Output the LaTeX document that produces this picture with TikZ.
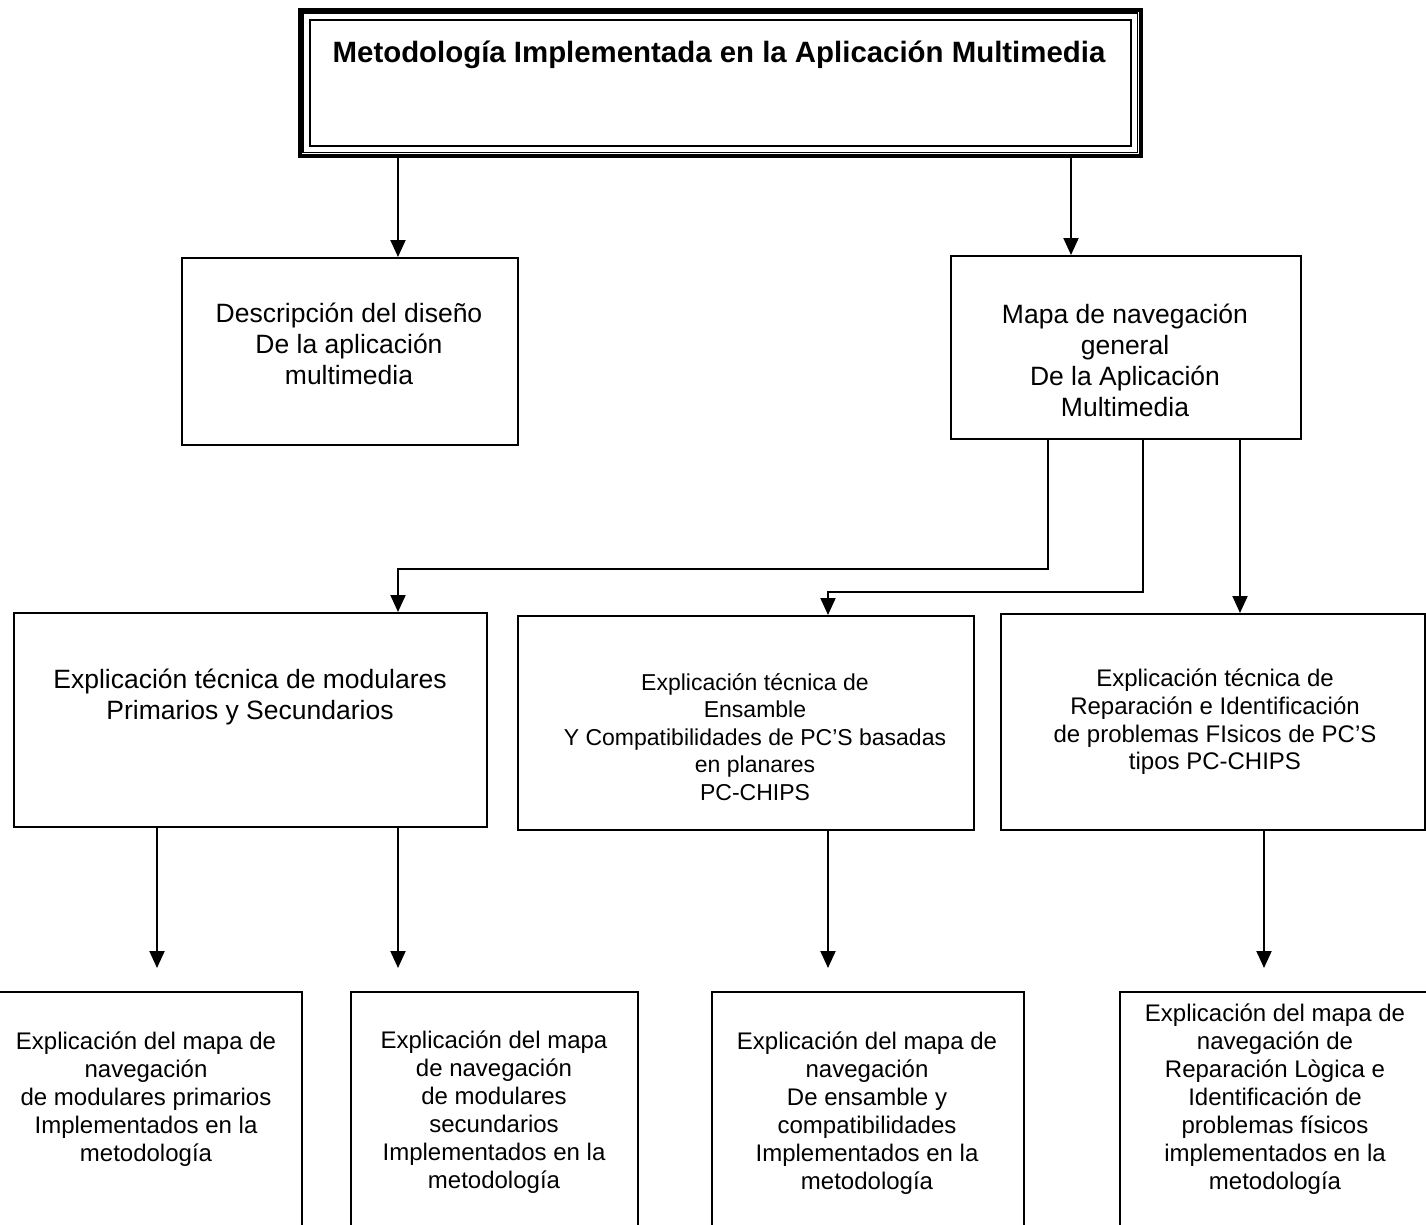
\documentclass[tikz,border=0pt]{standalone}
\usepackage{fontspec}
\setmainfont{Liberation Sans}
\usetikzlibrary{arrows.meta}
\begin{document}
\begin{tikzpicture}[x=1pt,y=-1pt,
 box/.style={draw, line width=2pt, rectangle, inner sep=0pt, anchor=north west},
 arr/.style={line width=2pt, -{Triangle[length=17pt,width=15pt]}},
 bigtxt/.style={align=center, inner sep=0pt, font=\fontsize{26.5}{31}\selectfont},
 midtxt/.style={align=center, inner sep=0pt, font=\fontsize{23}{27.5}\selectfont},
 bottxt/.style={align=center, inner sep=0pt, font=\fontsize{24}{28}\selectfont},
]
\useasboundingbox (0,0) rectangle (1426,1224);
\clip (0,0) rectangle (1426,1224);
\fill[white] (0,0) rectangle (1426,1224);

% title box
\node[box, line width=3.5pt, minimum width=841pt, minimum height=146pt] (title) at (298,8) {};
\draw[line width=1.5pt] ([xshift=5pt,yshift=-5pt]title.north west) rectangle ([xshift=-5pt,yshift=5pt]title.south east);
\draw[line width=2pt] ([xshift=12pt,yshift=-12pt]title.north west) rectangle ([xshift=-12pt,yshift=12pt]title.south east);
\node[inner sep=0pt, anchor=base, font=\bfseries\fontsize{29.4}{34}\selectfont] (ttl) at (719,62) {Metodología Implementada en la Aplicación Multimedia};

% boxes
\node[box, minimum width=336pt, minimum height=187pt] (A) at (181,257) {};
\node[box, minimum width=350pt, minimum height=183pt] (B) at (950,255) {};
\node[box, minimum width=473pt, minimum height=214pt] (C) at (13,612) {};
\node[box, minimum width=456pt, minimum height=214pt] (D) at (517,615) {};
\node[box, minimum width=424pt, minimum height=216pt] (E) at (1000,613) {};
\node[box, minimum width=311pt, minimum height=300pt] (F) at (-10,991) {};
\node[box, minimum width=287pt, minimum height=300pt] (G) at (350,991) {};
\node[box, minimum width=312pt, minimum height=300pt] (H) at (711,991) {};
\node[box, minimum width=320pt, minimum height=300pt] (I) at (1119,991) {};

% texts
\node[bigtxt] (tA) at (349,344) {Descripción del diseño\\De la aplicación\\multimedia};
\node[bigtxt] (tB) at (1125,360) {Mapa de navegación\\general\\De la Aplicación\\Multimedia};
\node[bigtxt] (tC) at (250,697) {Explicación técnica de modulares\\Primarios y Secundarios};
\node[midtxt] (tD) at (755,737) {Explicación técnica de\\Ensamble\\Y Compatibilidades de PC'S basadas\\en planares\\PC-CHIPS};
\node[bottxt, font=\fontsize{24}{27.7}\selectfont] (tE) at (1215,722) {Explicación técnica de\\Reparación e Identificación\\de problemas FIsicos de PC'S\\tipos PC-CHIPS};
\node[bottxt] (tF) at (146,1099) {Explicación del mapa de\\navegación\\de modulares primarios\\Implementados en la\\metodología};
\node[bottxt] (tG) at (494,1112) {Explicación del mapa\\de navegación\\de modulares\\secundarios\\Implementados en la\\metodología};
\node[bottxt] (tH) at (867,1113) {Explicación del mapa de\\navegación\\De ensamble y\\compatibilidades\\Implementados en la\\metodología};
\node[bottxt] (tI) at (1275,1099) {Explicación del mapa de\\navegación de\\Reparación Lògica e\\Identificación de\\problemas físicos\\implementados en la\\metodología};

% connector x positions
\coordinate (xa) at (398,0);
\coordinate (xb) at (1071,0);
\coordinate (xc) at (1048,0);
\coordinate (xd) at (1143,0);
\coordinate (xe) at (1240,0);
\coordinate (xf) at (157,0);
\coordinate (xg) at (828,0);
\coordinate (xh) at (1264,0);

\draw[arr] (title.south -| xa) -- (A.north -| xa);
\draw[arr] (title.south -| xb) -- (B.north -| xb);
\draw[arr] (B.south -| xc) -- ++(0,129) -| (C.north -| xa);
\draw[arr] (B.south -| xd) -- ++(0,152) -| (D.north -| xg);
\draw[arr] (B.south -| xe) -- (E.north -| xe);
\draw[arr, shorten >=23pt] (C.south -| xf) -- (F.north -| xf);
\draw[arr, shorten >=23pt] (C.south -| xa) -- (G.north -| xa);
\draw[arr, shorten >=23pt] (D.south -| xg) -- (H.north -| xg);
\draw[arr, shorten >=23pt] (E.south -| xh) -- (I.north -| xh);
\end{tikzpicture}
\end{document}
